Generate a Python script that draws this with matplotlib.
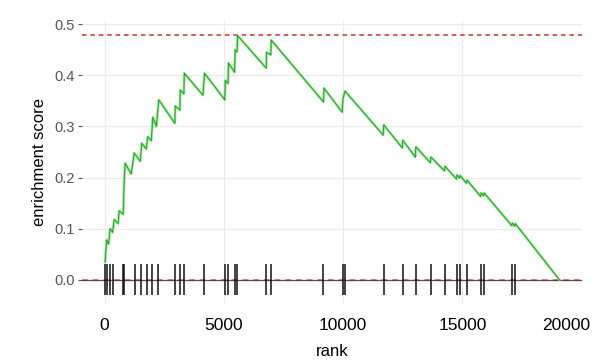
import numpy as np
import matplotlib
matplotlib.use("Agg")
import matplotlib.pyplot as plt
import matplotlib.transforms as mtransforms

plt.rcParams["font.family"] = ["Liberation Sans", "DejaVu Sans"]

# running enrichment score, vertices of the walk (rank, score)
es_rank = [20, 84, 168, 232, 337, 400, 568, 610, 779, 821, 863, 1116, 1242,
           1495, 1558, 1747, 1810, 1958, 2021, 2168, 2273, 2947, 2960, 3158,
           3170, 3326, 3340, 4126, 4189, 5040, 5060, 5178, 5190, 5452, 5473,
           5557, 5570, 6778, 6790, 6968, 6985, 9178, 9199, 9957, 9999, 10083,
           11683, 11704, 12483, 12504, 13030, 13051, 13661, 13683, 14251,
           14272, 14756, 14777, 14882, 14903, 15177, 15198, 15767, 15788,
           15893, 15914, 17072, 17093, 17198, 17219, 19071]
es_score = [0.035, 0.078, 0.070, 0.100, 0.093, 0.118, 0.110, 0.135, 0.128,
            0.195, 0.228, 0.207, 0.248, 0.232, 0.267, 0.256, 0.280, 0.272,
            0.318, 0.300, 0.352, 0.306, 0.340, 0.332, 0.371, 0.364, 0.404,
            0.361, 0.404, 0.352, 0.390, 0.384, 0.424, 0.406, 0.450, 0.446,
            0.478, 0.414, 0.445, 0.440, 0.469, 0.348, 0.375, 0.328, 0.355,
            0.369, 0.283, 0.303, 0.258, 0.273, 0.240, 0.260, 0.229, 0.240,
            0.213, 0.222, 0.197, 0.205, 0.199, 0.204, 0.189, 0.195, 0.163,
            0.170, 0.164, 0.170, 0.106, 0.111, 0.105, 0.110, 0.0]

# positions of gene set members in the ranked list
hit_rank = [30, 110, 220, 350, 790, 830, 1263, 1516, 1768, 1979, 2231, 2947,
            3158, 3326, 4168, 5052, 5178, 5473, 5557, 6778, 6989, 9178, 9978,
            10062, 11704, 12504, 13051, 13683, 14272, 14777, 14903, 15198,
            15788, 15914, 17093, 17219]

max_es = max(es_score)

fig = plt.figure(figsize=(6.02, 3.64), dpi=100)
ax = fig.add_axes([0.136, 0.168, 0.831, 0.774])

ax.axhline(max_es, color="#d03030", ls=(0, (3, 2.5)), lw=1.1, zorder=2)
ax.axhline(0, color="#d03030", ls=(0, (3, 2.5)), lw=1.4, alpha=0.6, zorder=2)
ax.axhline(0, color="#3a2a2a", lw=0.9, alpha=0.8, zorder=3)

ax.vlines(hit_rank, -0.03, 0.03, color="#111111", lw=1.1, zorder=4)

ax.plot(es_rank, es_score, color="#5ae85a", lw=1.8, alpha=0.8, zorder=5)
ax.plot(es_rank, es_score, color="#2a7a2a", lw=0.5, zorder=6)

ax.set_xlim(-953, 20023)
ax.set_ylim(-0.045, 0.506)
ax.set_xticks([0, 5000, 10000, 15000, 20000])
ax.set_yticks([0.0, 0.1, 0.2, 0.3, 0.4, 0.5])
ax.set_yticklabels(["0.0", "0.1", "0.2", "0.3", "0.4", "0.5"])

ax.grid(True, color="#ebebeb", lw=0.9)
ax.set_axisbelow(True)
for s in ax.spines.values():
    s.set_visible(False)

ax.tick_params(axis="y", length=3, width=0.8, color="#555555",
               labelcolor="#555555", labelsize=10.5, pad=2)
ax.tick_params(axis="x", length=0, labelcolor="black", labelsize=12.5, pad=11)

# keep the last rank label inside the canvas
last = ax.get_xticklabels()[-1]
last.set_transform(last.get_transform() +
                   mtransforms.ScaledTranslation(-15 / 100, 0, fig.dpi_scale_trans))

ax.set_xlabel("rank", fontsize=12, labelpad=8)
ax.set_ylabel("enrichment score", fontsize=12, labelpad=5)

fig.savefig("out.png", dpi=100, facecolor="white")
